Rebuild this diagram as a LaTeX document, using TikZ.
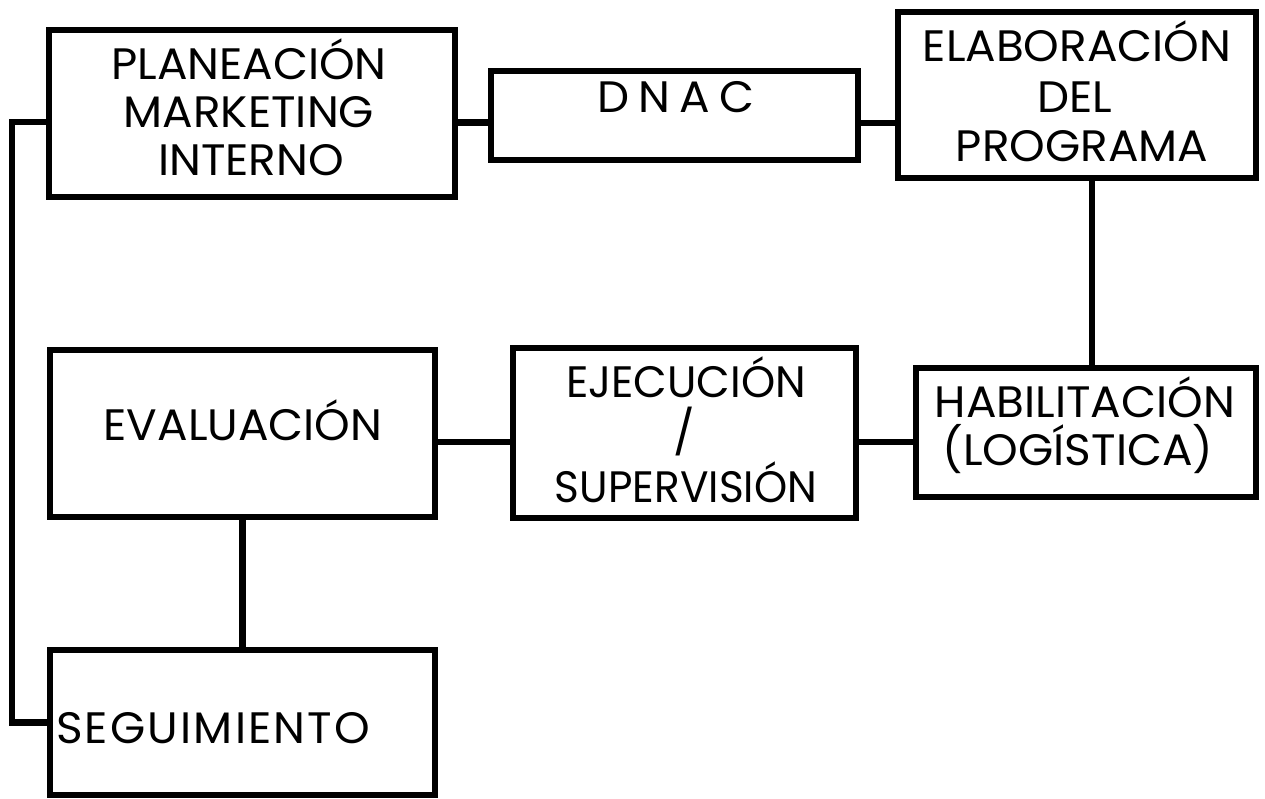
\documentclass[tikz,border=0pt]{standalone}
\usepackage{fontspec}
\setmainfont{Poppins}[FakeStretch=1.03]
\begin{document}
\begin{tikzpicture}[x=1pt,y=-1pt,
  box/.style={draw=black, line width=6.2pt, inner sep=0pt, outer sep=0pt, rectangle, line join=miter},
  conn/.style={draw=black, line width=6.2pt, line join=miter},
  lbl/.style={anchor=base, inner sep=0pt, outer sep=0pt, text height=31pt, text depth=0pt, font=\fontsize{44}{44}\selectfont}]
\fill[white] (0,0) rectangle (1265,799);
\useasboundingbox (0,0) rectangle (1265,799);
% boxes
\node[box, minimum width=406pt, minimum height=167pt] (plan) at (252,113.5) {};
\node[box, minimum width=367pt, minimum height=89pt] (dnac) at (674.5,115.5) {};
\node[box, minimum width=358pt, minimum height=166pt] (elab) at (1077,95) {};
\node[box, minimum width=340pt, minimum height=129pt] (hab) at (1086,432.5) {};
\node[box, minimum width=343pt, minimum height=170pt] (eje) at (684.5,433) {};
\node[box, minimum width=385pt, minimum height=167pt] (eval) at (242.5,433.5) {};
\node[box, minimum width=385pt, minimum height=145pt] (seg) at (242.5,722.5) {};
% texts
\node[lbl] (plan1) at (249,80) {PLANEACIÓN};
\node[lbl] (plan2) at (249,128) {MARKETING};
\node[lbl] (plan3) at (251,176) {INTERNO};
\node[lbl] (dnac1) at (676,113) {D\hspace{9pt}N\hspace{9pt}A\hspace{9pt}C};
\node[lbl] (elab1) at (1077,62) {ELABORACIÓN};
\node[lbl] (elab2) at (1075,113) {DEL};
\node[lbl] (elab3) at (1082,162) {PROGRAMA};
\node[lbl] (hab1) at (1085,417) {HABILITACIÓN};
\node[lbl] (hab2) at (1078,465) {(LOGÍSTICA)};
\node[lbl] (eje1) at (686,397) {\addfontfeature{FakeStretch=0.99}EJECUCIÓN};
\node[lbl] (eje2) at (684,448) {/};
\node[lbl] (eje3) at (686,502) {\addfontfeature{FakeStretch=0.96}SUPERVISIÓN};
\node[lbl] (eval1) at (243,440) {EVALUACIÓN};
\node[lbl, anchor=base west] (seg1) at (56,743) {\addfontfeature{LetterSpace=5}SEGUIMIENTO};
% connectors
\draw[conn] ([yshift=-9pt]plan.east) -- ([yshift=-7pt]dnac.west);
\draw[conn] ([yshift=-7.5pt]dnac.east) -- ([yshift=-28pt]elab.west);
\draw[conn] ([xshift=15pt]elab.south) -- ([xshift=15pt]elab.south |- hab.north);
\draw[conn] ([yshift=-9.5pt]hab.west) -- ([yshift=-9pt]eje.east);
\draw[conn] ([yshift=-9pt]eje.west) -- ([yshift=-8.5pt]eval.east);
\draw[conn] (eval.south) -- (seg.north);
\coordinate (lft) at (12,122);
\draw[conn] ([yshift=-8.5pt]plan.west) -- (lft) |- (seg.west);
\end{tikzpicture}
\end{document}
